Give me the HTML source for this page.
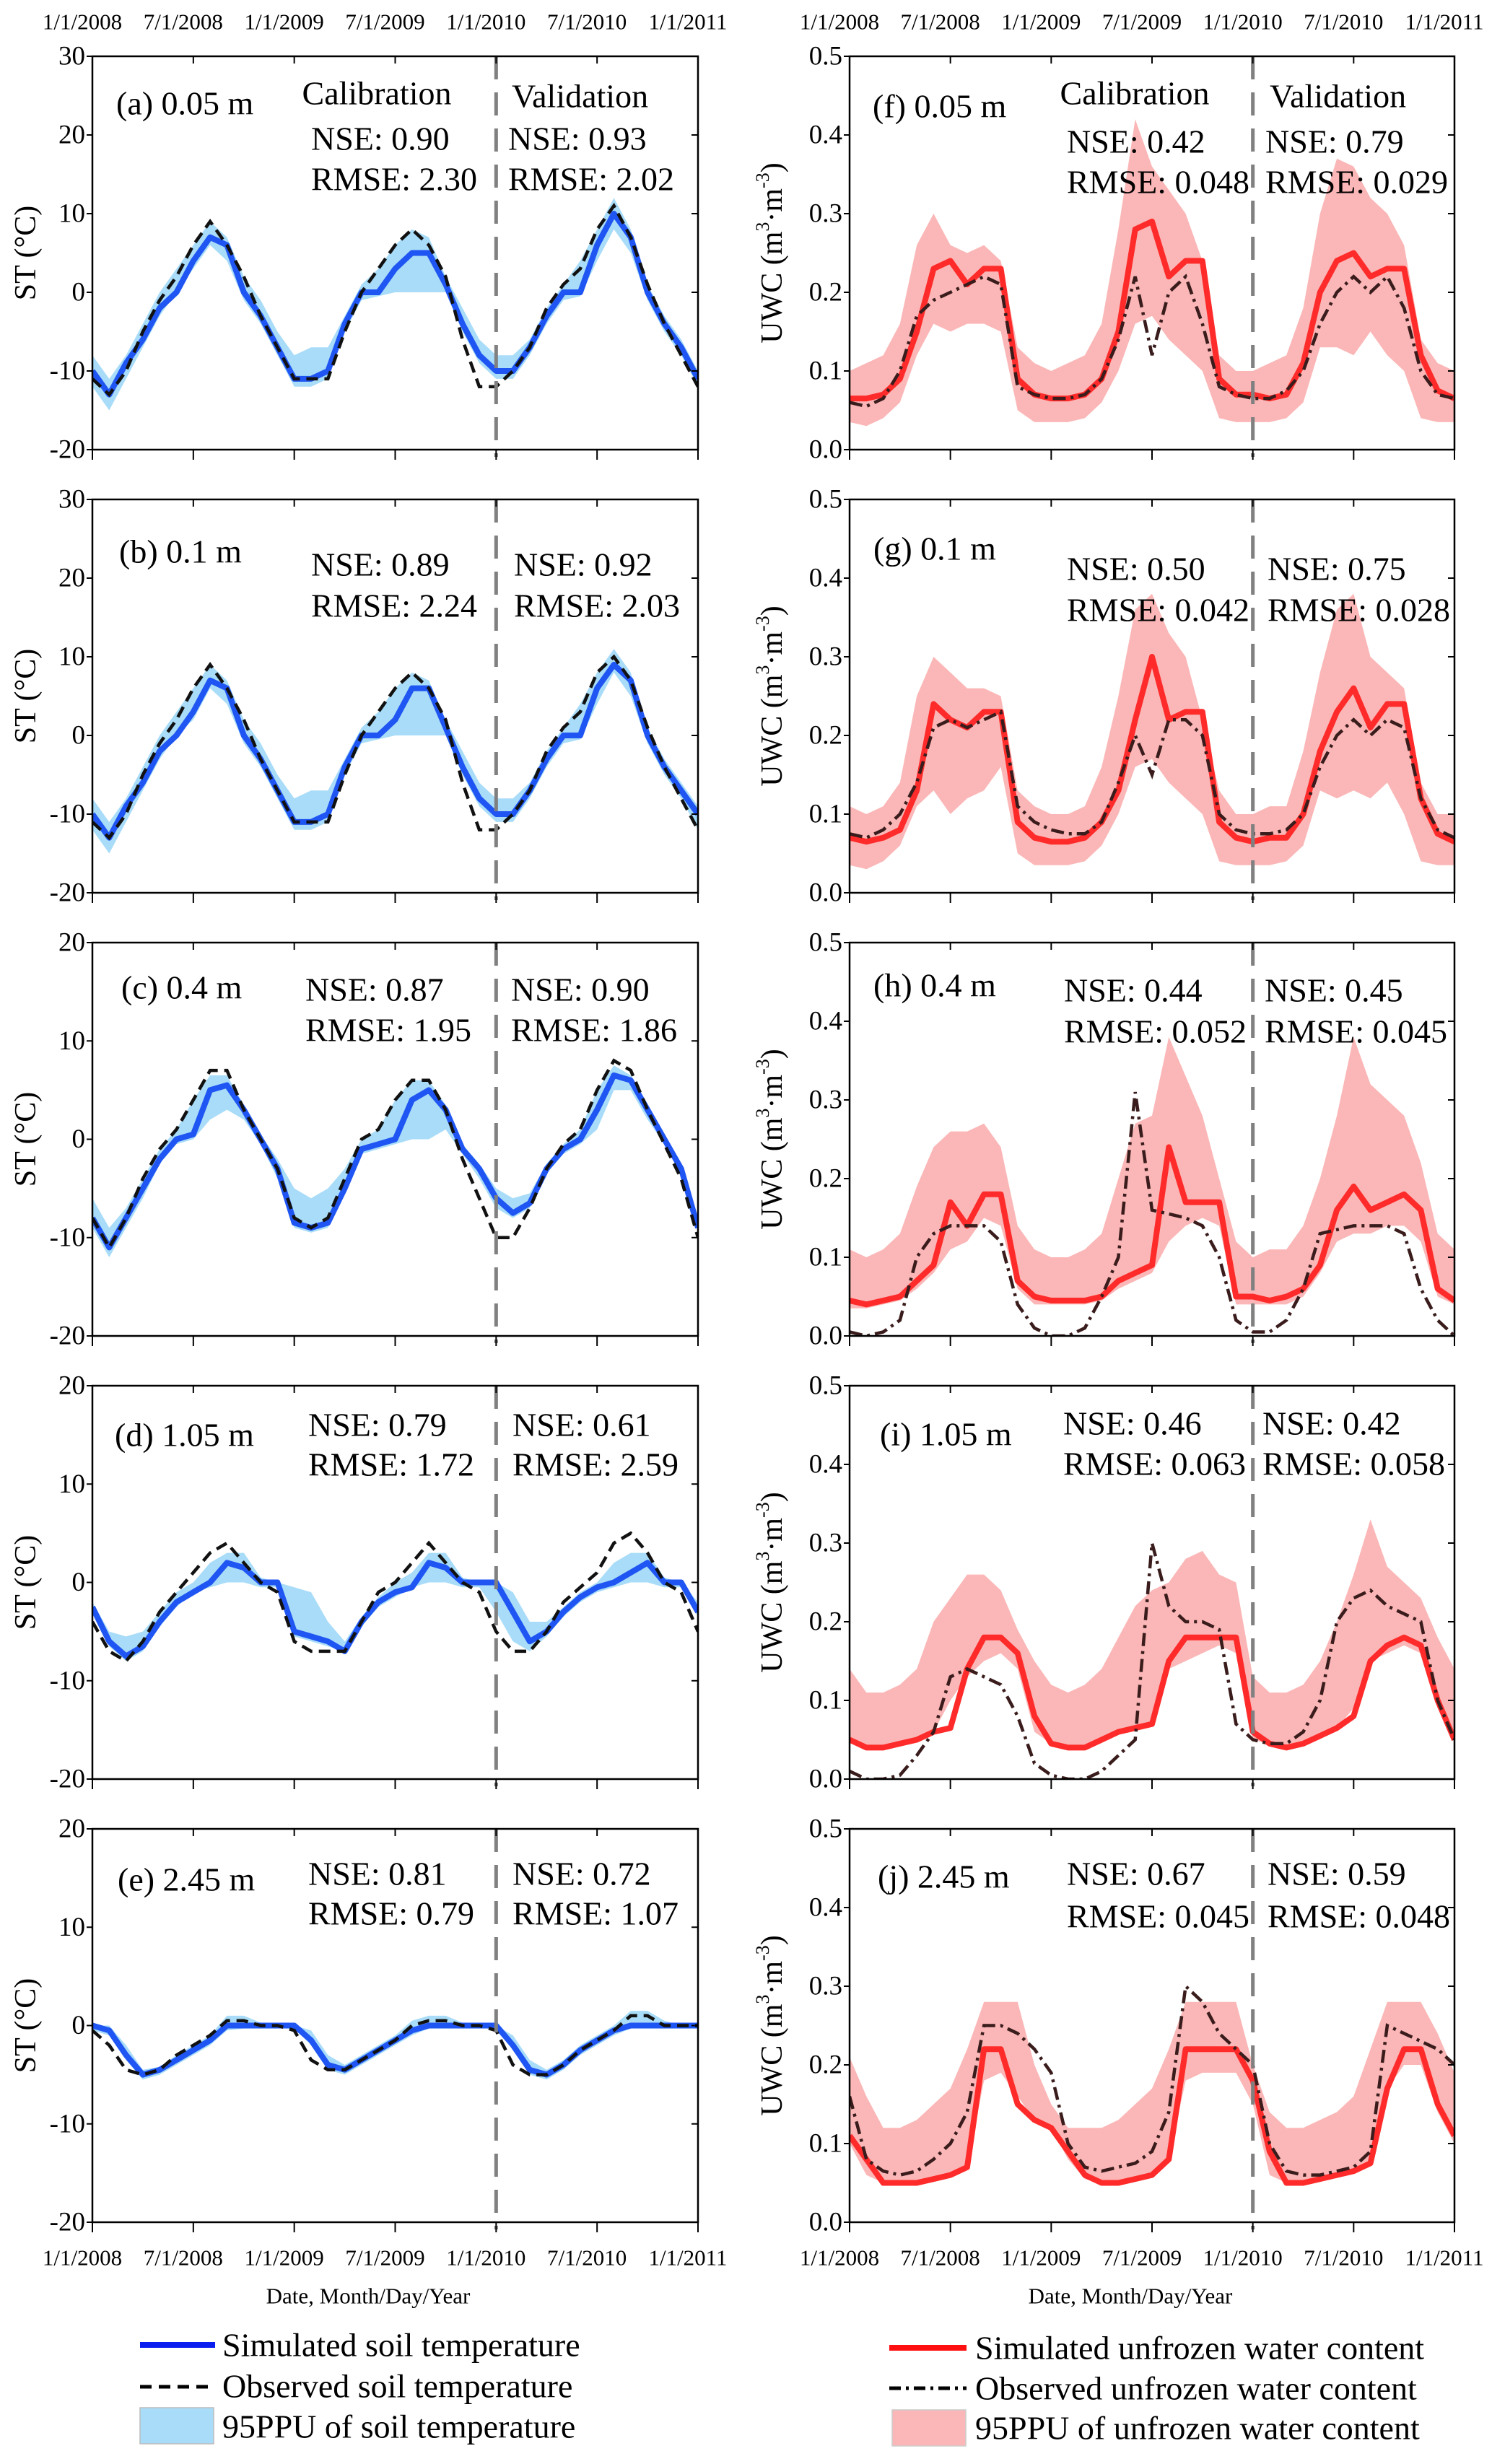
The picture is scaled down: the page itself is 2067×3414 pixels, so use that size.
<!DOCTYPE html>
<html><head><meta charset="utf-8">
<style>
html,body{margin:0;padding:0;background:#fff;}
svg{display:block;}
text{font-family:"Liberation Serif",serif;fill:#000;}
</style></head>
<body>
<svg id="fig" width="2067" height="3414" viewBox="0 0 2067 3414" xmlns="http://www.w3.org/2000/svg"></svg>
<script>
// ---- x categories: monthly from 1/1/2008 to 1/1/2011 (month index 0..36)
const xTickLabels = ["1/1/2008","7/1/2008","1/1/2009","7/1/2009","1/1/2010","7/1/2010","1/1/2011"];
const stTicksA = [-20,-10,0,10,20,30];
const stTicksC = [-20,-10,0,10,20];
const uwcTicks = [0.0,0.1,0.2,0.3,0.4,0.5];

// ---- soil temperature (°C)
const stSimA = [-10,-13,-9,-6,-2,0,4,7,6,0,-3,-7,-11,-11,-10,-4,0,0,3,5,5,1,-4,-8,-10,-10,-7,-3,0,0,6,10,7,0,-4,-7,-11];
const stObsA = [-11,-13,-10,-5,-1,2,6,9,6,2,-3,-7,-11,-11,-11,-5,0,3,6,8,6,2,-6,-12,-12,-10,-7,-2,1,3,8,11,7,1,-4,-8,-12];
const stLoA = [-12,-15,-11,-7,-3,0,3,6,4,-1,-4,-8,-12,-12,-11,-5,-1,-0.5,0,0,0,0,-5,-9,-11,-11,-8,-4,-1,-0.5,4,8,5,-1,-5,-8,-12];
const stHiA = [-8,-11,-8,-4,0,3,6,9,7,2,-1,-5,-8,-7,-7,-3,1,3,6,8,7,2,-2,-6,-8,-8,-6,-2,1,4,8,12,8,1,-3,-6,-10];

const stSimB = [-10,-13,-9,-6,-2,0,3,7,6,0,-3,-7,-11,-11,-10,-4,0,0,2,6,6,1,-4,-8,-10,-10,-7,-3,0,0,6,9,7,0,-4,-7,-10];
const stObsB = [-11,-13,-10,-5,-1,2,6,9,6,2,-3,-7,-11,-11,-11,-5,0,3,6,8,6,2,-6,-12,-12,-10,-7,-2,1,3,8,10,7,1,-4,-8,-12];
const stLoB = [-12,-15,-11,-7,-3,0,2,6,4,-1,-4,-8,-12,-12,-11,-5,-1,-0.5,0,0,0,0,-5,-9,-11,-11,-8,-4,-1,-0.5,4,8,5,-1,-5,-8,-12];
const stHiB = [-8,-11,-8,-4,0,3,6,9,7,2,-1,-5,-8,-7,-7,-3,1,3,6,8,7,2,-2,-6,-8,-8,-6,-2,1,4,8,11,8,1,-3,-6,-9];

const stSimC = [-8,-11,-8,-5,-2,0,0.5,5,5.5,3,0,-3,-8.5,-9,-8.5,-5,-1,-0.5,0,4,5,3,-1,-3,-6,-7.5,-6.5,-3,-1,0,3,6.5,6,3,0,-3,-9];
const stObsC = [-8,-11,-8,-4,-1,1,4,7,7,3,0,-3,-8,-9,-8,-4,0,1,4,6,6,3,-2,-6,-10,-10,-7,-3,-0.5,1,5,8,7,3,-0.5,-4,-10];
const stLoC = [-9,-12,-9,-6,-2.5,-0.5,0,2,3,2,-0.5,-4,-9,-9.5,-9,-5.5,-1.5,-1,-0.5,0,0,1,-1.5,-4,-7,-8,-7,-3.5,-1.5,-0.5,1,5,5,2,-0.5,-3.5,-9.5];
const stHiC = [-6,-9,-7,-4,-1,1,4,6.5,6.5,3.5,0.5,-2,-5,-6,-5,-3,0,1,4,6,6,3.5,-0.5,-2.5,-5,-6,-5.5,-2.5,-0.5,1,5,7.5,6.5,3.5,0.5,-2.5,-8];

const stSimD = [-2.5,-6,-7.5,-6.5,-4,-2,-1,0,2,1.5,0,0,-5,-5.5,-6,-7,-4,-2,-1,-0.5,2,1.5,0,0,0,-3,-6,-5,-3,-1.5,-0.5,0,1,2,0,0,-3];
const stObsD = [-4,-7,-8,-6,-3,-1,1,3,4,2,0,-1,-6,-7,-7,-7,-4,-1,0,2,4,2,0,-1,-5,-7,-7,-5,-2,-0.5,1,4,5,3,0,-1,-5];
const stLoD = [-3,-6.5,-8,-7,-4.5,-2.5,-1,-0.5,0,0,-0.5,-0.5,-5.5,-6,-6.5,-7,-4.5,-2.5,-1.5,-0.5,0,0,-0.5,-0.5,-3,-6,-7,-5.5,-3.5,-2,-1,-0.5,0,0,-0.5,-0.5,-3.5];
const stHiD = [-2,-5,-5.5,-5,-3,-1,0,2,3,3,0.5,0,-0.5,-1,-4,-6,-3.5,-1.5,0,1,3,3,0.5,0,0,-1,-4,-4,-2.5,-1,0,2,3,3,0.5,0,-2];

const stSimE = [0,-0.5,-3,-5,-4.5,-3.5,-2.5,-1.5,0,0,0,0,0,-1.5,-4,-4.5,-3.5,-2.5,-1.5,-0.5,0,0,0,0,0,-2,-4.5,-5,-4,-2.5,-1.5,-0.5,0,0,0,0,0];
const stObsE = [-0.5,-2,-4.5,-5,-4.5,-3,-2,-1,0.5,0.5,0,0,-0.5,-3.5,-4.5,-4.5,-3.5,-2.5,-1.5,0,0.5,0.5,0,0,-0.5,-4,-5,-5,-4,-2.5,-1.5,-0.5,1,1,0,0,0];
const stLoE = [-0.5,-1,-3.5,-5.5,-5,-4,-3,-2,-0.5,-0.3,-0.3,-0.3,-0.3,-2,-4.5,-5,-4,-3,-2,-1,-0.3,-0.3,-0.3,-0.3,-0.3,-2.5,-5,-5.5,-4.5,-3,-2,-1,-0.3,-0.3,-0.3,-0.3,-0.3];
const stHiE = [0,0,-2,-4.5,-4.2,-3,-2,-1,1,1,0.3,0,0,-0.5,-3,-4,-3,-2,-1,0.5,1,1,0.3,0,0,-1,-3.5,-4.5,-3.5,-2,-1,0,1.5,1.5,0.5,0,0];

// ---- unfrozen water content (m3/m3)
const uwSimF = [.065,.065,.07,.09,.15,.23,.24,.21,.23,.23,.09,.07,.065,.065,.07,.09,.15,.28,.29,.22,.24,.24,.09,.07,.07,.065,.07,.11,.2,.24,.25,.22,.23,.23,.12,.075,.065];
const uwObsF = [.06,.055,.065,.1,.17,.19,.2,.21,.22,.21,.08,.07,.065,.065,.07,.09,.14,.22,.12,.2,.22,.16,.08,.07,.065,.065,.075,.1,.16,.2,.22,.2,.22,.18,.1,.07,.065];
const uwLoF = [.035,.03,.04,.06,.12,.16,.15,.16,.16,.15,.05,.035,.035,.035,.04,.06,.1,.16,.17,.14,.12,.1,.04,.035,.035,.035,.04,.06,.13,.13,.12,.15,.12,.1,.04,.035,.035];
const uwHiF = [.1,.11,.12,.16,.26,.3,.26,.25,.26,.24,.13,.11,.1,.11,.12,.16,.28,.42,.36,.33,.3,.24,.12,.1,.1,.11,.12,.18,.3,.37,.36,.32,.3,.26,.14,.11,.1];

const uwSimG = [.07,.065,.07,.08,.13,.24,.22,.21,.23,.23,.09,.07,.065,.065,.07,.09,.13,.22,.3,.22,.23,.23,.09,.07,.065,.07,.07,.1,.18,.23,.26,.21,.24,.24,.12,.075,.065];
const uwObsG = [.075,.07,.08,.1,.14,.21,.22,.21,.22,.23,.11,.09,.08,.075,.075,.09,.14,.2,.15,.22,.22,.2,.1,.08,.075,.075,.08,.1,.16,.2,.22,.2,.22,.21,.12,.08,.07];
const uwLoG = [.035,.03,.04,.06,.11,.13,.1,.12,.13,.16,.05,.035,.035,.035,.04,.06,.1,.16,.17,.14,.12,.1,.04,.035,.035,.035,.04,.06,.13,.12,.13,.12,.14,.1,.04,.035,.035];
const uwHiG = [.11,.1,.11,.14,.25,.3,.28,.26,.26,.25,.13,.11,.1,.1,.11,.16,.25,.36,.38,.33,.3,.22,.13,.1,.1,.11,.11,.18,.28,.36,.38,.3,.28,.26,.14,.1,.1];

const uwSimH = [.045,.04,.045,.05,.07,.09,.17,.14,.18,.18,.07,.05,.045,.045,.045,.05,.07,.08,.09,.24,.17,.17,.17,.05,.05,.045,.05,.06,.09,.16,.19,.16,.17,.18,.16,.06,.045];
const uwObsH = [.005,0,.005,.02,.1,.13,.14,.14,.14,.12,.04,.01,0,0,.01,.05,.1,.31,.16,.155,.15,.14,.1,.02,.005,.005,.02,.06,.13,.135,.14,.14,.14,.13,.06,.02,0];
const uwLoH = [.035,.035,.04,.045,.06,.08,.11,.12,.15,.14,.06,.04,.04,.04,.04,.045,.06,.07,.08,.12,.14,.15,.14,.04,.04,.04,.04,.05,.08,.12,.13,.13,.14,.14,.12,.05,.04];
const uwHiH = [.11,.1,.11,.13,.19,.24,.26,.26,.27,.24,.14,.11,.1,.1,.11,.13,.2,.27,.28,.38,.33,.28,.2,.12,.1,.11,.11,.14,.2,.28,.38,.32,.3,.28,.22,.13,.11];

const uwSimI = [.05,.04,.04,.045,.05,.06,.065,.14,.18,.18,.16,.08,.045,.04,.04,.05,.06,.065,.07,.15,.18,.18,.18,.18,.06,.045,.04,.045,.055,.065,.08,.15,.17,.18,.17,.1,.05];
const uwObsI = [.01,0,0,.005,.03,.06,.13,.14,.13,.12,.08,.02,.005,0,0,.01,.03,.05,.3,.22,.2,.2,.19,.07,.05,.045,.045,.06,.1,.2,.23,.24,.22,.21,.2,.1,.05];
const uwLoI = [.05,.04,.04,.045,.05,.06,.1,.13,.15,.16,.14,.06,.045,.04,.04,.05,.06,.065,.07,.14,.15,.16,.17,.16,.05,.045,.04,.045,.055,.065,.09,.15,.16,.17,.16,.09,.05];
const uwHiI = [.14,.11,.11,.12,.14,.2,.23,.26,.26,.24,.19,.15,.12,.11,.12,.14,.18,.22,.24,.25,.28,.29,.26,.25,.13,.11,.11,.12,.15,.2,.26,.33,.27,.25,.23,.18,.14];

const uwSimJ = [.11,.08,.05,.05,.05,.055,.06,.07,.22,.22,.15,.13,.12,.09,.06,.05,.05,.055,.06,.08,.22,.22,.22,.22,.18,.09,.05,.05,.055,.06,.065,.075,.17,.22,.22,.15,.11];
const uwObsJ = [.16,.08,.065,.06,.065,.08,.1,.14,.25,.25,.24,.22,.19,.1,.07,.065,.07,.075,.09,.14,.3,.28,.24,.22,.2,.1,.065,.06,.06,.065,.07,.09,.25,.24,.23,.22,.2];
const uwLoJ = [.1,.06,.05,.05,.05,.055,.06,.07,.18,.19,.16,.13,.12,.08,.055,.05,.05,.055,.06,.08,.18,.19,.19,.19,.15,.06,.05,.05,.055,.06,.065,.08,.17,.2,.2,.14,.1];
const uwHiJ = [.21,.16,.12,.12,.13,.15,.17,.22,.28,.28,.28,.2,.15,.12,.12,.12,.13,.15,.17,.22,.28,.28,.28,.28,.2,.14,.12,.12,.13,.14,.16,.22,.28,.28,.28,.24,.19];

const svg = document.getElementById('fig');
const NS = 'http://www.w3.org/2000/svg';
function mk(tag, attrs, parent){
  const e = document.createElementNS(NS, tag);
  for (const k in attrs) e.setAttribute(k, attrs[k]);
  (parent||svg).appendChild(e);
  return e;
}
function txt(s, x, y, size, anchor, parent){
  const t = mk('text', {x:x, y:y, 'font-size':size, 'text-anchor':anchor||'start', 'dominant-baseline':'central'}, parent);
  t.textContent = s;
  return t;
}

const TOPS = [78, 692, 1306, 1920, 2534];
const PH = 545;
const COLS = [{x0:128, x1:967}, {x0:1177, x1:2015}];
const AF = 46;

const panels = [
 {col:0,row:0,id:'a',label:'(a) 0.05 m',ymin:-20,ymax:30,ticks:stTicksA,sim:stSimA,obs:stObsA,lo:stLoA,hi:stHiA,cal:['NSE: 0.90','RMSE: 2.30'],val:['NSE: 0.93','RMSE: 2.02'],head:true,ly:65,ny:114,ry:170,lx:161,nx:431,vx:704},
 {col:0,row:1,id:'b',label:'(b) 0.1 m',ymin:-20,ymax:30,ticks:stTicksA,sim:stSimB,obs:stObsB,lo:stLoB,hi:stHiB,cal:['NSE: 0.89','RMSE: 2.24'],val:['NSE: 0.92','RMSE: 2.03'],ly:72,ny:90,ry:147,lx:165,nx:431,vx:712},
 {col:0,row:2,id:'c',label:'(c) 0.4 m',ymin:-20,ymax:20,ticks:stTicksC,sim:stSimC,obs:stObsC,lo:stLoC,hi:stHiC,cal:['NSE: 0.87','RMSE: 1.95'],val:['NSE: 0.90','RMSE: 1.86'],ly:62,ny:65,ry:121,lx:168,nx:423,vx:708},
 {col:0,row:3,id:'d',label:'(d) 1.05 m',ymin:-20,ymax:20,ticks:stTicksC,sim:stSimD,obs:stObsD,lo:stLoD,hi:stHiD,cal:['NSE: 0.79','RMSE: 1.72'],val:['NSE: 0.61','RMSE: 2.59'],ly:68,ny:54,ry:109,lx:159,nx:427,vx:710},
 {col:0,row:4,id:'e',label:'(e) 2.45 m',ymin:-20,ymax:20,ticks:stTicksC,sim:stSimE,obs:stObsE,lo:stLoE,hi:stHiE,cal:['NSE: 0.81','RMSE: 0.79'],val:['NSE: 0.72','RMSE: 1.07'],ly:70,ny:62,ry:117,lx:163,nx:427,vx:710},
 {col:1,row:0,id:'f',label:'(f) 0.05 m',ymin:0,ymax:0.5,ticks:uwcTicks,sim:uwSimF,obs:uwObsF,lo:uwLoF,hi:uwHiF,cal:['NSE: 0.42','RMSE: 0.048'],val:['NSE: 0.79','RMSE: 0.029'],head:true,ly:69,ny:118,ry:174,lx:1209,nx:1478,vx:1753},
 {col:1,row:1,id:'g',label:'(g) 0.1 m',ymin:0,ymax:0.5,ticks:uwcTicks,sim:uwSimG,obs:uwObsG,lo:uwLoG,hi:uwHiG,cal:['NSE: 0.50','RMSE: 0.042'],val:['NSE: 0.75','RMSE: 0.028'],ly:68,ny:96,ry:153,lx:1210,nx:1478,vx:1756},
 {col:1,row:2,id:'h',label:'(h) 0.4 m',ymin:0,ymax:0.5,ticks:uwcTicks,sim:uwSimH,obs:uwObsH,lo:uwLoH,hi:uwHiH,cal:['NSE: 0.44','RMSE: 0.052'],val:['NSE: 0.45','RMSE: 0.045'],ly:59,ny:66,ry:123,lx:1210,nx:1474,vx:1752},
 {col:1,row:3,id:'i',label:'(i) 1.05 m',ymin:0,ymax:0.5,ticks:uwcTicks,sim:uwSimI,obs:uwObsI,lo:uwLoI,hi:uwHiI,cal:['NSE: 0.46','RMSE: 0.063'],val:['NSE: 0.42','RMSE: 0.058'],ly:67,ny:52,ry:108,lx:1219,nx:1473,vx:1749},
 {col:1,row:4,id:'j',label:'(j) 2.45 m',ymin:0,ymax:0.5,ticks:uwcTicks,sim:uwSimJ,obs:uwObsJ,lo:uwLoJ,hi:uwHiJ,cal:['NSE: 0.67','RMSE: 0.045'],val:['NSE: 0.59','RMSE: 0.048'],ly:66,ny:62,ry:121,lx:1216,nx:1478,vx:1756}
];

panels.forEach(p => {
  const c = COLS[p.col];
  const top = TOPS[p.row], bot = top + PH;
  const isST = p.col === 0;
  const g = mk('g', {});
  
  
  const n = p.sim.length - 1;
  const xs = i => c.x0 + (c.x1 - c.x0) * i / n;
  const ys = v => bot - (v - p.ymin) / (p.ymax - p.ymin) * PH;
  const clipId = 'clip' + p.id;
  const cp = mk('clipPath', {id: clipId}, g);
  mk('rect', {x:c.x0, y:top, width:c.x1-c.x0, height:PH}, cp);
  const dg = mk('g', {'clip-path':'url(#'+clipId+')'}, g);

  let bp = '';
  p.hi.forEach((v,i)=>{ bp += (i?'L':'M') + xs(i).toFixed(1) + ',' + ys(v).toFixed(1); });
  for (let i = p.lo.length-1; i >= 0; i--) bp += 'L' + xs(i).toFixed(1) + ',' + ys(p.lo[i]).toFixed(1);
  const band = mk('path', {d: bp + 'Z', fill: isST ? '#a8dcf8' : '#fbb7b7', stroke:'none'}, dg);
  
  

  let sp = '';
  p.sim.forEach((v,i)=>{ sp += (i?'L':'M') + xs(i).toFixed(1) + ',' + ys(v).toFixed(1); });
  const sim = mk('path', {d: sp, fill:'none', stroke: isST ? '#1f55f2' : '#ff2b2b', 'stroke-width':8, 'stroke-linejoin':'round'}, dg);
  
  

  let op = '';
  p.obs.forEach((v,i)=>{ op += (i?'L':'M') + xs(i).toFixed(1) + ',' + ys(v).toFixed(1); });
  const obs = mk('path', {d: op, fill:'none', stroke: isST ? '#111' : '#3a1c1c', 'stroke-width':4.5, 'stroke-dasharray': isST ? '16 9' : '18 7 4 7'}, dg);
  
  

  const xd = c.x0 + (c.x1 - c.x0) * 4 / 6;
  const dv = mk('line', {x1:xd, x2:xd, y1:top, y2:bot+10, stroke:'#808080', 'stroke-width':5, 'stroke-dasharray':'32 18'}, g);
  
  

  const fr = mk('rect', {x:c.x0, y:top, width:c.x1-c.x0, height:PH, fill:'none', stroke:'#000', 'stroke-width':2.5}, g);
  
  

  xTickLabels.forEach((lab, k) => {
    const x = c.x0 + (c.x1 - c.x0) * k / 6;
    mk('line', {x1:x, x2:x, y1:top, y2:top+10, stroke:'#000', 'stroke-width':2}, g);
    mk('line', {x1:x, x2:x, y1:bot, y2:bot+14, stroke:'#000', 'stroke-width':2}, g);
    if (p.head) {
      const t = txt(lab, x-14, 30, 31, 'middle', g);
      
      
    }
    if (p.row === 4) {
      const t = txt(lab, x-14, 3128, 31, 'middle', g);
      
      
    }
  });

  p.ticks.forEach(v => {
    const y = ys(v);
    mk('line', {x1:c.x0-8, x2:c.x0, y1:y, y2:y, stroke:'#000', 'stroke-width':2}, g);
    mk('line', {x1:c.x1-9, x2:c.x1, y1:y, y2:y, stroke:'#000', 'stroke-width':2}, g);
    const t = txt(isST ? String(v) : v.toFixed(1), c.x0-10, y, 37, 'end', g);
    
    
  });

  const yc = top + PH/2;
  const yx = isST ? 36 : 1070;
  const yt = mk('text', {x:yx, y:yc, 'font-size':42, 'text-anchor':'middle', 'dominant-baseline':'central', transform:'rotate(-90 '+yx+' '+yc+')'}, g);
  if (isST) { yt.textContent = 'ST (°C)'; }
  else {
    yt.textContent = 'UWC  (m';
    const s1 = mk('tspan', {'font-size':26, dy:-14}, yt); s1.textContent = '3';
    const s2 = mk('tspan', {dy:14}, yt); s2.textContent = '·m';
    const s3 = mk('tspan', {'font-size':26, dy:-14}, yt); s3.textContent = '-3';
    const s4 = mk('tspan', {dy:14}, yt); s4.textContent = ')';
  }
  
  

  const lb = txt(p.label, p.lx, top + p.ly, AF, 'start', g);
  
  
  if (p.head) {
    const ca = txt('Calibration', isST ? 522 : 1572, top + 51, AF, 'middle', g);
    
    
    const va = txt('Validation', isST ? 709 : 1759, top + 55, AF, 'start', g);
    
    
  }
  const n1 = txt(p.cal[0], p.nx, top + p.ny, AF, 'start', g);
  
  
  const r1 = txt(p.cal[1], p.nx, top + p.ry, AF, 'start', g);
  
  
  const n2 = txt(p.val[0], p.vx, top + p.ny, AF, 'start', g);
  
  
  const r2 = txt(p.val[1], p.vx, top + p.ry, AF, 'start', g);
  
  
});

[510, 1566].forEach(x => {
  const t = txt('Date, Month/Day/Year', x, 3181, 31, 'middle');
  
  
});

const LF = 46;
const legL = mk('g', {});


mk('line', {x1:194, x2:298, y1:3249, y2:3249, stroke:'#0a1ef0', 'stroke-width':8}, legL);
mk('line', {x1:194, x2:298, y1:3307, y2:3307, stroke:'#000', 'stroke-width':5, 'stroke-dasharray':'16 10'}, legL);
mk('rect', {x:194, y:3336, width:102, height:50, fill:'#a8dcf8', stroke:'#bbb', 'stroke-width':1.5}, legL);
let t;
t = txt('Simulated soil temperature', 308, 3249, LF, 'start', legL);


t = txt('Observed soil temperature', 308, 3306, LF, 'start', legL);


t = txt('95PPU of soil temperature', 308, 3362, LF, 'start', legL);



const legR = mk('g', {});


mk('line', {x1:1232, x2:1339, y1:3253, y2:3253, stroke:'#ff1010', 'stroke-width':8}, legR);
mk('line', {x1:1232, x2:1339, y1:3309, y2:3309, stroke:'#000', 'stroke-width':5, 'stroke-dasharray':'16 7 4 7'}, legR);
mk('rect', {x:1236, y:3339, width:102, height:50, fill:'#fbb7b7', stroke:'#ccc', 'stroke-width':1.5}, legR);
t = txt('Simulated unfrozen water content', 1351, 3253, LF, 'start', legR);


t = txt('Observed unfrozen water content', 1351, 3309, LF, 'start', legR);


t = txt('95PPU of unfrozen water content', 1351, 3364, LF, 'start', legR);


</script>
</body></html>
